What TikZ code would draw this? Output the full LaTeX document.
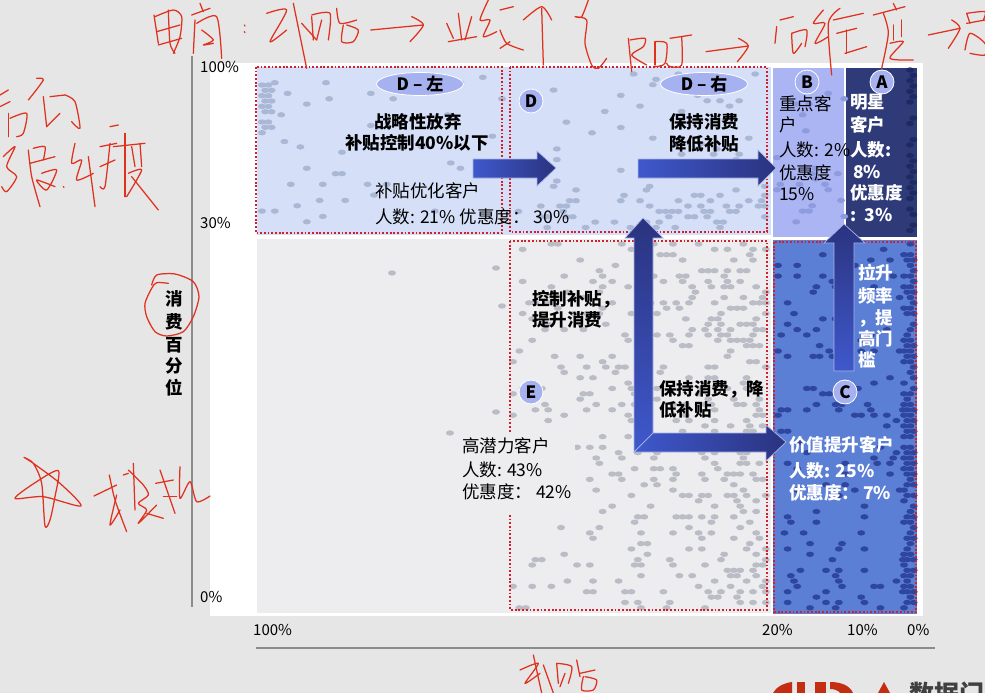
\documentclass[tikz,border=0pt]{standalone}
\usepackage{fontspec}
\setmainfont{Noto Sans CJK SC}
\usetikzlibrary{shapes.geometric}
\definecolor{pagegray}{HTML}{E6E6E6}
\definecolor{regD}{HTML}{D5E0F8}
\definecolor{regE}{HTML}{EDEDEF}
\definecolor{regB}{HTML}{ABB5F3}
\definecolor{regA}{HTML}{2F3B79}
\definecolor{regC}{HTML}{5C7FD6}
\definecolor{dotD}{HTML}{AAB8D6}
\definecolor{dotE}{HTML}{BABCC6}
\definecolor{dotB}{HTML}{8F9BDF}
\definecolor{dotA}{HTML}{1F2A62}
\definecolor{dotC}{HTML}{2F469F}
\definecolor{inkred}{HTML}{E0301E}
\definecolor{dotred}{HTML}{D2202A}
\definecolor{arrowlight}{HTML}{3F58CC}
\definecolor{arrowdark}{HTML}{2A337F}
\definecolor{badge}{HTML}{A6B1F0}
\definecolor{logored}{HTML}{C42D12}
\newcommand{\dotfield}[7]{%
  \pgfmathtruncatemacro{\dfnx}{(#2-#1)/6.4}%
  \pgfmathtruncatemacro{\dfny}{(#4-#3)/5.35}%
  \foreach \ky in {0,...,\dfny}{%
    \foreach \kx in {0,...,\dfnx}{%
      \pgfmathsetmacro{\dfp}{#6+(#7-#6)*\kx/max(\dfnx,1)}%
      \pgfmathtruncatemacro{\dfhit}{rnd<\dfp}%
      \ifnum\dfhit=1
        \fill[#5] ({#1+6.4*\kx+3.2*mod(\ky,2)},{#3+5.35*\ky}) ellipse [x radius=4, y radius=2.7];%
      \fi
    }%
  }%
}
\newcommand{\ink}[1]{\draw[hand] plot coordinates {#1};}
\tikzset{
  x=1pt,y=-1pt,
  hand/.style={draw=inkred,line width=1.25pt,line cap=round,line join=round,smooth,tension=0.45},
  zone/.style={draw=dotred,line width=1.7pt,dash pattern=on 1.8pt off 1.9pt},
  blockh/.style={draw=arrowlight!45!white,line width=0.7pt,left color=arrowlight,right color=arrowdark},
  blockv/.style={draw=arrowlight!45!white,line width=0.7pt,top color=arrowdark,bottom color=arrowlight},
  badgec/.style={circle,draw=white,line width=0.8pt,fill=badge,minimum size=24pt,inner sep=0pt,font=\fontsize{17}{17}\selectfont\bfseries},
  badgee/.style={ellipse,draw=white,line width=0.8pt,fill=badge,minimum width=87pt,minimum height=23pt,inner sep=0pt,font=\fontsize{17}{17}\selectfont\bfseries},
  lbl/.style={anchor=west,inner sep=0pt,font=\fontsize{17.5}{21}\selectfont},
  lblb/.style={lbl,font=\fontsize{17.5}{21}\selectfont\bfseries},
  lblw/.style={lblb,text=white},
  lblc/.style={anchor=center,inner sep=0pt,font=\fontsize{17.5}{21}\selectfont\bfseries},
  axl/.style={anchor=west,inner sep=0pt,font=\fontsize{15}{15}\selectfont},
}
\begin{document}
\begin{tikzpicture}
\useasboundingbox (0,0) rectangle (985,693);
\clip (0,0) rectangle (985,693);
\fill[pagegray] (0,0) rectangle (985,693);
\fill[white] (210,63) rectangle (923,616);
% regions
\fill[regD] (257,67) rectangle (771,235);
\fill[regE] (257,239) rectangle (771,613);
\fill[regB] (773,68) rectangle (844,237);
\fill[regA] (846,68) rectangle (917,237);
\fill[regC] (773,240) rectangle (917,614);
% dots
\pgfmathsetseed{7}
\dotfield{262}{500}{72}{230}{dotD}{0.05}{0.03}
\dotfield{262}{272}{85}{115}{dotD}{0.95}{0.7}
\dotfield{262}{272}{122}{138}{dotD}{0.95}{0.7}
\dotfield{512}{764}{74}{190}{dotD}{0.05}{0.07}
\dotfield{512}{764}{190}{232}{dotD}{0.12}{0.24}
\dotfield{513}{764}{244}{608}{dotE}{0.06}{0.24}
\dotfield{777}{842}{72}{234}{dotB}{0.05}{0.05}
\dotfield{910}{913}{70}{234}{dotA}{0.8}{0.8}
\dotfield{778}{900}{244}{610}{dotC}{0.11}{0.08}
\dotfield{904}{912}{244}{610}{dotC}{0.7}{0.8}
\foreach \p in {(392,273),(502,306),(496,412),(450,433),(496,268)}
  \fill[dotE] \p ellipse [x radius=4, y radius=2.7];
% dotted zones
\draw[zone] (256,67) rectangle (502,233);
\draw[zone] (510,67) rectangle (767,232);
\draw[zone] (510,241) rectangle (767,610);
\draw[zone] (774,242) rectangle (916,612);
% text plate of E
\fill[regE] (458,433) rectangle (532,515);
\fill[regE] (458,433) rectangle (575,512);
% block arrows
\path[blockh] (473,159) -- (537,159) -- (537,151) -- (556,168) -- (537,186) -- (537,178) -- (473,178) -- cycle;
\path[blockh] (638,159) -- (758,159) -- (758,150) -- (776,168) -- (758,186) -- (758,178) -- (638,178) -- cycle;
\path[blockv] (634,452) -- (634,238) -- (625,238) -- (643,218) -- (663,238) -- (653,238) -- (653,433) -- cycle;
\path[blockh] (634,452) -- (653,433) -- (766,433) -- (766,425) -- (786,442) -- (766,461) -- (766,452) -- cycle;
\path[blockv] (834,371) -- (834,243) -- (824,243) -- (844,224) -- (865,243) -- (854,243) -- (854,371) -- cycle;
% badges
\node[badgee] (dleft) at (420,84) {D – 左};
\node[badgee] (dright) at (704,84) {D – 右};
\node[badgec] (bd) at (531,101) {D};
\node[badgec] (bb) at (807,82) {B};
\node[badgec] (ba) at (882,82) {A};
\node[badgec] (bc) at (845,392) {C};
\node[badgec] (be) at (531,392) {E};
% axes
\draw[draw=black!45,line width=1.1pt] (192,56) -- (192,607);
\draw[draw=black!45,line width=1.1pt] (256,648) -- (935,648);
\node[axl] (y100) at (200,67) {100\%};
\node[axl] (y30) at (200,223) {30\%};
\node[axl] (y0) at (200,597) {0\%};
\node[axl] (x100) at (253,630) {100\%};
\node[axl] (x20) at (762,630) {20\%};
\node[axl] (x10) at (847,630) {10\%};
\node[axl] (x0) at (907,630) {0\%};
\node[lblc] (v1) at (174,299) {消};
\node[lblc] (v2) at (174,322) {费};
\node[lblc] (v3) at (174,345) {百};
\node[lblc] (v4) at (174,366) {分};
\node[lblc] (v5) at (174,388) {位};
% D texts
\node[lblc] (t1) at (418,122) {战略性放弃};
\node[lblc] (t2) at (417,143) {补贴控制40\%以下};
\node[lbl] (t3) at (375,191) {补贴优化客户};
\node[lbl] (t4) at (375,217) {人数: 21\% 优惠度： 30\%};
\node[lblc] (t5) at (704,122) {保持消费};
\node[lblc] (t6) at (704,144) {降低补贴};
% B
\node[lbl] (b1) at (779,104) {重点客};
\node[lbl] (b2) at (779,125) {户};
\node[lbl] (b3) at (779,150) {人数: 2\%};
\node[lbl] (b4) at (779,173) {优惠度};
\node[lbl] (b5) at (779,194) {15\%};
% A
\node[lblw] (a1) at (850,102) {明星};
\node[lblw] (a2) at (850,125) {客户};
\node[lblw] (a3) at (850,150) {人数:};
\node[lblw] (a4) at (853,172) {8\%};
\node[lblw] (a5) at (850,193) {优惠度};
\node[lblw] (a6) at (850,215) {:~~3\%};
% C
\node[lblw] (c1) at (858,273) {拉升};
\node[lblw] (c2) at (858,296) {频率};
\node[lblw] (c3) at (858,318) {，提};
\node[lblw] (c4) at (858,339) {高门};
\node[lblw] (c5) at (858,360) {槛};
\node[lblw] (c6) at (789,445) {价值提升客户};
\node[lblw] (c7) at (789,471) {人数: 25\%};
\node[lblw] (c8) at (789,493) {优惠度： 7\%};
% E
\node[lblb] (e1) at (532,299) {控制补贴，};
\node[lblb] (e2) at (532,320) {提升消费};
\node[lblb] (e3) at (659,389) {保持消费，降};
\node[lblb] (e4) at (659,410) {低补贴};
\node[lbl] (e5) at (462,446) {高潜力客户};
\node[lbl] (e6) at (462,470) {人数: 43\%};
\node[lbl] (e7) at (462,492) {优惠度： 42\%};
% handwriting, top and left
\begin{scope}[shift={(0,0)},scale=1/3]
\ink{(462,45)(475,130)}\ink{(465,50)(520,30)(545,50)(540,110)(520,160)}\ink{(470,95)(540,75)}\ink{(475,135)(545,115)}\ink{(505,30)(510,130)(525,160)}
\ink{(575,45)(630,25)}\ink{(600,10)(610,35)}\ink{(585,60)(580,160)}\ink{(590,70)(650,50)(665,175)}\ink{(605,90)(640,120)(610,135)(640,130)}
\ink{(733,75)(735,78)}\ink{(733,95)(735,98)}
\ink{(800,40)(860,30)(810,125)(860,90)}\ink{(880,10)(920,205)}\ink{(905,70)(950,120)}
\ink{(935,50)(940,120)}\ink{(935,45)(990,40)(985,120)}\ink{(965,60)(950,120)}\ink{(1010,25)(1020,70)(1070,60)}\ink{(1030,75)(1025,125)(1060,125)(1075,90)(1040,75)}
\ink{(1112,90)(1270,75)}\ink{(1235,50)(1270,75)(1230,125)}
\ink{(1340,70)(1360,115)}\ink{(1375,40)(1385,120)}\ink{(1415,50)(1395,120)}\ink{(1345,125)(1430,110)}
\ink{(1465,0)(1440,60)(1470,60)(1450,110)(1490,95)}
\ink{(0,285)(25,270)}\ink{(0,320)(30,305)}\ink{(25,340)(25,410)}\ink{(30,355)(80,340)(70,400)(50,410)}
\ink{(85,300)(130,240)(110,235)}\ink{(130,290)(140,380)}\ink{(150,290)(195,285)}\ink{(195,285)(225,305)(240,385)(215,365)}\ink{(180,340)(140,380)}
\ink{(10,470)(45,440)(20,500)(50,530)(20,575)(5,560)}
\ink{(85,450)(95,530)(120,620)}\ink{(100,445)(135,440)(130,480)}\ink{(90,490)(165,470)}\ink{(125,520)(170,510)(140,570)(110,540)(165,560)}\ink{(190,560)(192,562)}
\ink{(225,430)(215,490)(245,480)(230,540)(280,520)}\ink{(265,470)(285,620)}\ink{(300,440)(350,430)}\ink{(300,500)(345,480)}\ink{(330,430)(315,560)(300,560)}
\ink{(330,380)(355,375)}\ink{(375,400)(375,590)}\ink{(340,440)(435,430)}\ink{(395,440)(405,500)}\ink{(420,430)(425,500)}\ink{(385,520)(425,510)(380,590)}\ink{(395,530)(475,630)}
\end{scope}
\begin{scope}[shift={(500,0)},scale=1/3]
\ink{(0,30)(40,20)}\ink{(0,90)(20,130)(70,150)}\ink{(0,145)(30,125)}
\ink{(125,25)(130,195)}\ink{(70,60)(125,20)(155,60)}
\ink{(265,0)(245,50)(225,50)(260,60)(255,130)(275,195)(295,205)(320,175)}
\ink{(385,115)(395,215)}\ink{(390,120)(435,115)(430,140)(395,165)(440,195)}\ink{(465,125)(465,195)}\ink{(465,125)(500,130)(495,190)(465,200)}\ink{(510,115)(575,105)}\ink{(545,110)(545,195)(510,200)(500,190)}
\ink{(618,155)(745,138)}\ink{(715,115)(745,138)(712,185)}
\ink{(830,80)(825,130)}\ink{(840,60)(880,50)}\ink{(875,100)(880,160)(905,130)}\ink{(875,100)(920,90)(915,140)}
\ink{(970,30)(940,70)(975,70)(945,130)(985,110)}\ink{(1020,25)(985,70)(995,225)}\ink{(1000,60)(1090,40)}\ink{(1010,100)(1070,85)}\ink{(1040,90)(1040,160)}\ink{(1035,160)(1100,140)}
\ink{(1120,45)(1215,20)}\ink{(1180,10)(1190,30)}\ink{(1150,40)(1165,100)(1145,205)}\ink{(1180,75)(1180,120)}\ink{(1205,60)(1205,110)}\ink{(1170,130)(1210,125)(1170,175)(1240,180)}
\ink{(1285,105)(1380,85)}\ink{(1355,60)(1380,85)(1345,145)}
\ink{(1400,40)(1410,70)}\ink{(1400,40)(1455,35)(1450,60)}\ink{(1400,70)(1455,60)}\ink{(1395,150)(1410,100)(1455,130)(1455,165)(1410,160)}
\end{scope}
\begin{scope}[shift={(0,440)},scale=1/3]
\ink{(72,52)(100,70)(180,130)(243,198)(130,170)(45,175)(110,125)(175,92)(165,170)(150,240)(135,258)(125,130)(100,70)(72,52)}
\ink{(282,168)(350,135)}\ink{(328,105)(345,180)(380,275)}\ink{(350,165)(330,255)(360,210)}
\ink{(370,105)(385,100)}\ink{(400,70)(405,210)}\ink{(385,90)(430,135)(445,165)(415,190)(440,210)(415,250)(470,195)}\ink{(440,220)(490,235)}
\ink{(467,130)(520,120)}\ink{(480,90)(525,220)}\ink{(490,170)(530,170)}\ink{(540,80)(540,175)(570,125)(590,185)(630,168)}
\end{scope}
\begin{scope}[shift={(500,480)},scale=1/3]
\ink{(60,570)(115,550)(75,610)(120,580)}\ink{(100,525)(125,639)}\ink{(130,555)(160,639)}
\ink{(170,550)(175,610)}\ink{(170,550)(215,560)(205,610)}\ink{(195,580)(180,620)}\ink{(230,540)(240,590)}\ink{(240,580)(285,570)}\ink{(250,590)(245,630)(280,630)(290,600)(255,590)}
\end{scope}
\begin{scope}[shift={(120,260)},scale=1/3]
\ink{(95,75)(110,45)(165,42)(220,65)(237,110)(220,170)(190,215)(140,228)(105,215)(80,170)(75,130)(95,85)(110,68)(145,70)}
\end{scope}
% logo, cut by the lower edge
\fill[logored] (773,693) .. controls (776,687) and (784,683) .. (792,682) -- (792,693) -- cycle;
\fill[logored] (797,682) -- (805,682) -- (805,693) -- (797,693) -- cycle;
\fill[logored] (815,682) -- (826,682) -- (826,693) -- (815,693) -- cycle;
\fill[logored] (830,682) .. controls (842,682) and (850,686) .. (853,693) -- (840,693) .. controls (838,690) and (834,689) .. (830,689) -- cycle;
\fill[logored] (884,682) -- (890,693) -- (878,693) -- cycle;
\node[anchor=west,inner sep=0pt,text=black!75,font=\fontsize{25}{25}\selectfont\bfseries] (logo) at (909,694) {数据门};
\end{tikzpicture}
\end{document}
